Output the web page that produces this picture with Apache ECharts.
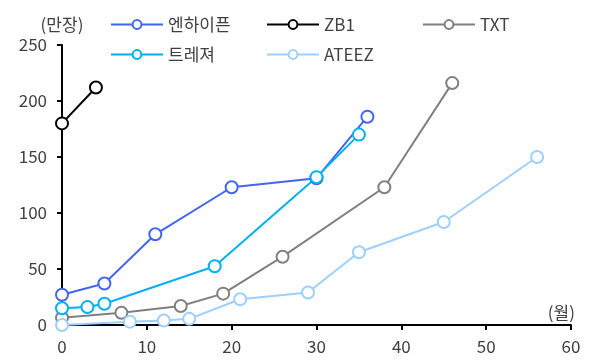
<!DOCTYPE html>
<html>
<head>
<meta charset="utf-8">
<script src="https://cdn.jsdelivr.net/npm/echarts@6/dist/echarts.min.js"></script>
<style>
  html, body { margin: 0; padding: 0; background: #fff; }
  #chart { width: 597px; height: 360px; }
</style>
</head>
<body>
<div id="chart"></div>
<script>
// months since debut (x) and cumulative album sales in 10k units (y)
var enhypenX = [0, 5, 11, 20, 30, 36];
var enhypenY = [27, 37, 81, 123, 131, 186];
var zb1X = [0, 4];
var zb1Y = [180, 212];
var txtX = [0, 7, 14, 19, 26, 38, 46];
var txtY = [6.5, 11, 17, 28, 61, 123, 216];
var treasureX = [0, 3, 5, 18, 30, 35];
var treasureY = [15, 16, 19, 52.5, 132, 170];
var ateezX = [0, 8, 12, 15, 21, 29, 35, 45, 56];
var ateezY = [0, 3, 4, 5.5, 23, 29, 65, 92, 150];

var names = ['엔하이픈', 'ZB1', 'TXT', '트레져', 'ATEEZ'];
var colors = ['#4366f0', '#000000', '#808080', '#00b0f0', '#9dcfff'];
var xs = [enhypenX, zb1X, txtX, treasureX, ateezX];
var ys = [enhypenY, zb1Y, txtY, treasureY, ateezY];

function pairs(x, y) {
  var out = [];
  for (var i = 0; i < x.length; i++) out.push([x[i], y[i]]);
  return out;
}

var font = '"Noto Sans CJK KR", "Noto Sans", sans-serif';
var legendPos = [[105, 11], [261, 11], [417, 11], [105, 41], [261, 41]];

var legends = names.map(function (n, i) {
  return {
    data: [n],
    left: legendPos[i][0],
    top: legendPos[i][1],
    itemWidth: 52,
    itemHeight: 11,
    textStyle: { fontFamily: font, fontSize: 17, color: '#404040' }
  };
});

var series = names.map(function (n, i) {
  return {
    name: n,
    type: 'line',
    data: pairs(xs[i], ys[i]),
    symbol: 'emptyCircle',
    symbolSize: 12,
    color: colors[i],
    lineStyle: { width: 2, color: colors[i] },
    itemStyle: { borderWidth: 2.5, color: colors[i] },
    animation: false
  };
});

var chart = echarts.init(document.getElementById('chart'));
chart.setOption({
  animation: false,
  legend: legends,
  grid: { left: 62, right: 26, top: 45, bottom: 35, containLabel: false },
  xAxis: {
    type: 'value',
    min: 0,
    max: 60,
    interval: 10,
    name: '(월)',
    nameLocation: 'end',
    nameGap: 4,
    nameTextStyle: { fontFamily: font, fontSize: 17, color: '#404040', align: 'right', verticalAlign: 'bottom', padding: [0, 0, 4, 0] },
    axisLine: { show: true, lineStyle: { color: '#000', width: 2 } },
    axisTick: { show: true, inside: false, length: 5, lineStyle: { color: '#000', width: 2 } },
    axisLabel: { fontFamily: font, fontSize: 17, color: '#404040', margin: 13 },
    splitLine: { show: false }
  },
  yAxis: {
    type: 'value',
    min: 0,
    max: 250,
    interval: 50,
    name: '(만장)',
    nameLocation: 'end',
    nameGap: 12,
    nameTextStyle: { fontFamily: font, fontSize: 17, color: '#404040', align: 'center' },
    axisLine: { show: true, lineStyle: { color: '#000', width: 2 } },
    axisTick: { show: true, inside: false, length: 5, lineStyle: { color: '#000', width: 2 } },
    axisLabel: { fontFamily: font, fontSize: 17, color: '#404040', margin: 15 },
    splitLine: { show: false }
  },
  series: series
});
</script>
</body>
</html>
